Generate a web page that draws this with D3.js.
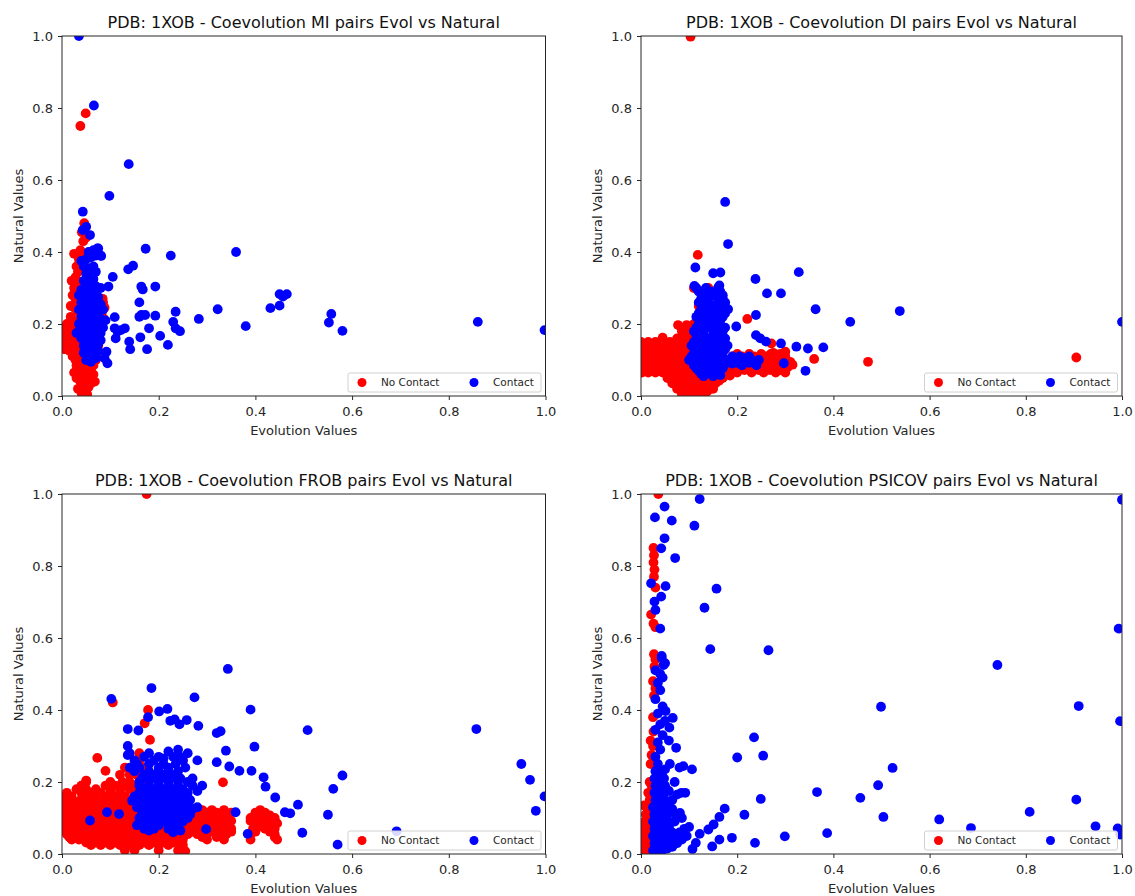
<!DOCTYPE html>
<html><head><meta charset="utf-8">
<script src="https://cdn.jsdelivr.net/npm/d3@7"></script>
<style>body{margin:0;background:#fff;} text{font-family:"DejaVu Sans",sans-serif;}</style>
</head><body><svg id="c" width="1135" height="896"></svg>
<script>
const titles = [
  "PDB: 1XOB - Coevolution MI pairs Evol vs Natural",
  "PDB: 1XOB - Coevolution DI pairs Evol vs Natural",
  "PDB: 1XOB - Coevolution FROB pairs Evol vs Natural",
  "PDB: 1XOB - Coevolution PSICOV pairs Evol vs Natural"
];
const tickValues = [0, 0.2, 0.4, 0.6, 0.8, 1.0];
const xLabel = "Evolution Values";
const yLabel = "Natural Values";
const legendLabels = ["No Contact", "Contact"];

// ---- MI ----
const miNoContact = [
[0.038,0.75],[0.049,0.785],[0.025,0.395],[0.046,0.48],[0.041,0.455],[0.05,0.44],[0.044,0.43],
[0.03,0.36],[0.035,0.38],[0.04,0.37],[0.028,0.33],[0.033,0.345],[0.045,0.35],[0.038,0.405],[0.042,0.39],
[0.02,0.32],[0.025,0.30],[0.03,0.31],[0.035,0.29],[0.022,0.28],[0.028,0.27],[0.034,0.26],[0.018,0.25],[0.026,0.245],[0.032,0.235],[0.04,0.25],
[0.085,0.26],[0.088,0.245],[0.082,0.23],[0.086,0.215],[0.08,0.2],[0.084,0.27],
[0.002,0.19],[0.005,0.17],[0.004,0.15],[0.01,0.2],[0.012,0.18],[0.015,0.16],[0.01,0.14],[0.018,0.22],[0.02,0.19],[0.022,0.17],[0.02,0.15],[0.016,0.125],[0.025,0.21],[0.028,0.18],[0.03,0.155],[0.026,0.135],[0.022,0.11],[0.033,0.2],[0.036,0.17],[0.035,0.14],[0.032,0.12],[0.028,0.1],[0.04,0.115],[0.042,0.095],[0.008,0.165],[0.001,0.175],[0.014,0.2],[0.006,0.13],
[0.03,0.085],[0.035,0.07],[0.04,0.08],[0.045,0.06],[0.05,0.075],[0.055,0.09],[0.06,0.07],[0.065,0.085],[0.07,0.1],[0.03,0.05],[0.038,0.04],[0.045,0.03],[0.05,0.045],[0.058,0.05],[0.065,0.06],[0.033,0.02],[0.04,0.01],[0.048,0.015],[0.055,0.025],[0.06,0.035],[0.052,0.005],[0.042,0.002],[0.066,0.11],[0.072,0.12],[0.075,0.14],[0.07,0.16],[0.06,0.11],[0.025,0.065],[0.068,0.04]
];
const miContact = [
[0.035,1.0],[0.066,0.807],[0.138,0.644],[0.098,0.556],[0.043,0.512],[0.05,0.47],[0.043,0.461],[0.058,0.447],[0.073,0.41],[0.081,0.389],
[0.105,0.331],[0.096,0.304],[0.137,0.352],[0.147,0.362],[0.173,0.409],[0.225,0.39],[0.36,0.40],[0.164,0.304],[0.167,0.296],[0.193,0.304],
[0.16,0.26],[0.164,0.225],[0.16,0.22],[0.172,0.225],[0.193,0.223],[0.109,0.219],[0.235,0.234],[0.23,0.206],[0.235,0.188],[0.244,0.18],
[0.283,0.214],[0.322,0.241],[0.38,0.194],[0.431,0.244],[0.45,0.251],[0.45,0.283],[0.465,0.283],[0.457,0.276],[0.557,0.228],[0.552,0.204],
[0.58,0.181],[0.86,0.206],[0.998,0.183],[0.13,0.188],[0.122,0.183],[0.115,0.179],[0.109,0.188],[0.111,0.16],[0.139,0.151],[0.141,0.13],
[0.162,0.163],[0.176,0.13],[0.18,0.188],[0.203,0.167],[0.219,0.142],[0.092,0.123],[0.094,0.091],[0.088,0.105],
[0.055,0.40],[0.065,0.405],[0.075,0.41],
[0.04,0.375],[0.05,0.38],[0.06,0.385],[0.07,0.39],[0.08,0.39],
[0.045,0.36],[0.055,0.355],[0.065,0.36],
[0.05,0.34],[0.06,0.335],[0.07,0.345],
[0.045,0.32],[0.055,0.315],[0.065,0.325],
[0.04,0.295],[0.05,0.30],[0.06,0.30],[0.07,0.305],[0.08,0.30],
[0.035,0.28],[0.045,0.275],[0.055,0.28],[0.065,0.285],[0.075,0.275],
[0.04,0.26],[0.05,0.255],[0.06,0.26],[0.07,0.265],[0.08,0.255],
[0.035,0.24],[0.045,0.235],[0.055,0.24],[0.065,0.245],[0.075,0.235],[0.085,0.24],
[0.04,0.22],[0.05,0.215],[0.06,0.22],[0.07,0.225],[0.08,0.215],[0.09,0.21],
[0.035,0.2],[0.045,0.195],[0.055,0.2],[0.065,0.205],[0.075,0.195],[0.085,0.19],
[0.03,0.175],[0.04,0.18],[0.05,0.175],[0.06,0.18],[0.07,0.185],[0.08,0.175],
[0.04,0.16],[0.05,0.155],[0.06,0.16],[0.07,0.165],[0.08,0.155],
[0.045,0.14],[0.055,0.135],[0.065,0.14],[0.075,0.145],
[0.045,0.12],[0.055,0.115],[0.065,0.12],[0.075,0.125],
[0.05,0.1],[0.06,0.095],[0.07,0.105]
];

// ---- DI ----
const diNoContact = [
[0.103,0.998],[0.118,0.392],[0.221,0.214],[0.36,0.103],[0.472,0.095],[0.905,0.107],[0.271,0.146],[0.30,0.123],[0.275,0.12],[0.312,0.091],
[0.0,0.15],[0.015,0.15],[0.03,0.15],[0.06,0.15],[0.085,0.15],[0.1,0.15],[0.115,0.15],
[0.005,0.14],[0.02,0.14],[0.035,0.14],[0.05,0.14],[0.065,0.14],[0.08,0.14],[0.095,0.14],[0.11,0.14],[0.125,0.14],
[0.008,0.133],[0.02,0.133],[0.035,0.133],[0.05,0.133],[0.065,0.133],[0.08,0.133],[0.095,0.133],[0.11,0.133],[0.125,0.133],[0.14,0.133],
[0.0,0.125],[0.012,0.125],[0.028,0.125],[0.042,0.125],[0.058,0.125],[0.072,0.125],[0.088,0.125],[0.1,0.125],[0.118,0.125],[0.132,0.125],
[0.008,0.117],[0.027,0.117],[0.043,0.117],[0.057,0.117],[0.073,0.117],[0.087,0.117],[0.103,0.117],[0.117,0.117],[0.133,0.117],[0.15,0.117],[0.2,0.117],[0.225,0.117],[0.25,0.117],[0.27,0.117],[0.29,0.117],
[0.005,0.11],[0.02,0.11],[0.035,0.11],[0.05,0.11],[0.065,0.11],[0.08,0.11],[0.095,0.11],[0.11,0.11],[0.125,0.11],[0.14,0.11],[0.19,0.11],[0.21,0.11],[0.235,0.11],[0.26,0.11],[0.28,0.11],[0.3,0.11],
[0.006,0.102],[0.02,0.102],[0.035,0.102],[0.05,0.102],[0.065,0.102],[0.08,0.102],[0.095,0.102],[0.11,0.102],[0.125,0.102],[0.14,0.102],[0.165,0.102],[0.19,0.102],[0.21,0.102],[0.232,0.102],[0.258,0.102],[0.28,0.102],[0.3,0.102],
[0.0,0.095],[0.012,0.095],[0.028,0.095],[0.042,0.095],[0.058,0.095],[0.072,0.095],[0.088,0.095],[0.1,0.095],[0.118,0.095],[0.132,0.095],[0.15,0.095],[0.18,0.095],[0.2,0.095],[0.22,0.095],[0.245,0.095],[0.27,0.095],[0.29,0.095],[0.31,0.095],
[0.005,0.087],[0.02,0.087],[0.035,0.087],[0.05,0.087],[0.065,0.087],[0.08,0.087],[0.094,0.087],[0.108,0.087],[0.124,0.087],[0.14,0.087],[0.155,0.087],[0.168,0.087],[0.185,0.087],[0.205,0.087],[0.228,0.087],[0.25,0.087],[0.272,0.087],[0.295,0.087],[0.315,0.087],
[0.005,0.08],[0.02,0.08],[0.035,0.08],[0.05,0.08],[0.065,0.08],[0.08,0.08],[0.095,0.08],[0.11,0.08],[0.125,0.08],[0.14,0.08],[0.16,0.08],[0.175,0.08],[0.195,0.08],[0.215,0.08],[0.24,0.08],[0.26,0.08],[0.285,0.08],[0.305,0.08],
[0.008,0.072],[0.022,0.072],[0.038,0.072],[0.052,0.072],[0.068,0.072],[0.082,0.072],[0.098,0.072],[0.112,0.072],[0.128,0.072],[0.142,0.072],[0.158,0.072],[0.185,0.072],[0.215,0.072],[0.245,0.072],[0.268,0.072],[0.29,0.072],
[0.002,0.065],[0.015,0.065],[0.03,0.065],[0.045,0.065],[0.06,0.065],[0.075,0.065],[0.09,0.065],[0.105,0.065],[0.12,0.065],[0.135,0.065],[0.15,0.065],[0.17,0.065],[0.2,0.065],[0.23,0.065],[0.255,0.065],[0.28,0.065],[0.3,0.065],
[0.062,0.057],[0.078,0.057],[0.092,0.057],[0.108,0.057],[0.122,0.057],[0.138,0.057],[0.152,0.057],[0.165,0.057],[0.185,0.057],
[0.055,0.05],[0.07,0.05],[0.085,0.05],[0.1,0.05],[0.115,0.05],[0.13,0.05],[0.145,0.05],[0.16,0.05],[0.17,0.05],
[0.072,0.042],[0.088,0.042],[0.102,0.042],[0.118,0.042],[0.132,0.042],[0.148,0.042],[0.162,0.042],
[0.065,0.035],[0.08,0.035],[0.095,0.035],[0.11,0.035],[0.125,0.035],[0.14,0.035],[0.155,0.035],
[0.082,0.027],[0.098,0.027],[0.112,0.027],[0.128,0.027],[0.142,0.027],
[0.075,0.02],[0.09,0.02],[0.105,0.02],[0.12,0.02],[0.135,0.02],[0.15,0.02],
[0.09,0.013],[0.108,0.013],[0.122,0.013],[0.138,0.013],
[0.085,0.006],[0.1,0.006],[0.115,0.006],[0.13,0.006],
[0.045,0.162],[0.075,0.16],[0.09,0.16],[0.105,0.16],[0.12,0.16],
[0.085,0.18],[0.1,0.18],[0.115,0.18],
[0.077,0.197],[0.095,0.197],[0.11,0.2],
[0.12,0.25],[0.13,0.255],[0.125,0.29],[0.11,0.3],[0.14,0.3]
];
const diContact = [
[0.175,0.539],[0.181,0.422],[0.113,0.357],[0.15,0.341],[0.165,0.343],[0.111,0.306],[0.163,0.307],[0.238,0.325],[0.328,0.344],[0.262,0.285],
[0.291,0.285],[0.363,0.241],[0.435,0.206],[0.538,0.236],[1.0,0.206],[0.181,0.241],[0.198,0.193],[0.239,0.225],[0.239,0.169],[0.248,0.16],
[0.26,0.151],[0.291,0.146],[0.323,0.137],[0.347,0.132],[0.379,0.135],[0.342,0.07],[0.297,0.091],
[0.115,0.3],[0.135,0.3],[0.16,0.3],
[0.12,0.29],[0.145,0.29],[0.165,0.29],
[0.13,0.28],[0.15,0.28],[0.17,0.28],
[0.125,0.27],[0.14,0.27],[0.16,0.27],[0.17,0.27],
[0.12,0.26],[0.14,0.26],[0.16,0.26],[0.175,0.26],
[0.13,0.25],[0.15,0.25],[0.17,0.25],
[0.125,0.24],[0.145,0.24],[0.165,0.24],
[0.12,0.23],[0.135,0.23],[0.155,0.23],[0.175,0.23],
[0.115,0.22],[0.13,0.22],[0.15,0.22],[0.17,0.22],
[0.125,0.21],[0.145,0.21],[0.165,0.21],
[0.12,0.2],[0.14,0.2],[0.16,0.2],
[0.115,0.19],[0.135,0.19],[0.155,0.19],[0.175,0.19],
[0.11,0.18],[0.13,0.18],[0.15,0.18],[0.17,0.18],
[0.115,0.17],[0.13,0.17],[0.15,0.17],[0.165,0.17],
[0.12,0.16],[0.14,0.16],[0.16,0.16],[0.175,0.16],
[0.11,0.15],[0.13,0.15],[0.15,0.15],[0.17,0.15],
[0.105,0.14],[0.125,0.14],[0.145,0.14],[0.165,0.14],[0.18,0.14],
[0.115,0.13],[0.135,0.13],[0.155,0.13],[0.175,0.13],
[0.11,0.12],[0.13,0.12],[0.15,0.12],[0.17,0.12],
[0.105,0.11],[0.125,0.11],[0.145,0.11],[0.165,0.11],[0.19,0.11],[0.205,0.11],[0.225,0.11],
[0.1,0.1],[0.12,0.1],[0.14,0.1],[0.16,0.1],[0.18,0.1],[0.2,0.1],[0.215,0.105],[0.23,0.1],[0.245,0.1],
[0.12,0.092],[0.14,0.092],[0.16,0.092],[0.18,0.092],[0.2,0.092],[0.225,0.092],
[0.11,0.085],[0.13,0.085],[0.15,0.085],[0.17,0.085],[0.19,0.09],[0.21,0.085],[0.24,0.085],
[0.115,0.077],[0.13,0.077],[0.15,0.077],[0.17,0.077],
[0.12,0.07],[0.14,0.07],[0.16,0.07],
[0.125,0.062],[0.145,0.062],[0.16,0.062],
[0.13,0.055],[0.15,0.055],[0.165,0.058]
];

// ---- FROB ----
const frobNoContact = [
[0.175,1.0],[0.105,0.421],[0.178,0.40],[0.171,0.363],[0.182,0.317],[0.333,0.199],[0.073,0.267],[0.09,0.231],[0.05,0.204],[0.16,0.28],[0.25,0.26],
[0.04,0.19],[0.09,0.19],[0.11,0.19],[0.13,0.19],[0.15,0.19],[0.17,0.19],
[0.01,0.17],[0.04,0.17],[0.06,0.17],[0.08,0.17],[0.1,0.17],[0.12,0.17],[0.15,0.17],
[0.005,0.16],[0.02,0.16],[0.05,0.16],[0.065,0.16],[0.09,0.16],[0.11,0.16],[0.13,0.16],[0.15,0.16],[0.17,0.16],
[0.01,0.152],[0.04,0.152],[0.07,0.152],[0.1,0.152],[0.12,0.152],[0.14,0.152],[0.16,0.152],[0.185,0.152],
[0.0,0.145],[0.015,0.145],[0.03,0.145],[0.045,0.145],[0.06,0.145],[0.075,0.145],[0.09,0.145],[0.105,0.145],[0.12,0.145],[0.135,0.145],[0.15,0.145],[0.165,0.145],[0.18,0.145],[0.2,0.145],
[0.012,0.137],[0.028,0.137],[0.042,0.137],[0.058,0.137],[0.072,0.137],[0.088,0.137],[0.102,0.137],[0.118,0.137],[0.132,0.137],[0.148,0.137],[0.162,0.137],[0.178,0.137],[0.2,0.137],
[0.005,0.13],[0.02,0.13],[0.035,0.13],[0.05,0.13],[0.065,0.13],[0.08,0.13],[0.095,0.13],[0.11,0.13],[0.125,0.13],[0.14,0.13],[0.155,0.13],[0.17,0.13],[0.19,0.13],[0.21,0.13],
[0.008,0.122],[0.02,0.122],[0.035,0.122],[0.05,0.122],[0.065,0.122],[0.08,0.122],[0.095,0.122],[0.11,0.122],[0.125,0.122],[0.14,0.122],[0.155,0.122],[0.17,0.122],[0.19,0.122],[0.21,0.122],[0.27,0.122],[0.29,0.122],[0.31,0.122],[0.335,0.122],[0.41,0.122],
[0.0,0.115],[0.012,0.115],[0.028,0.115],[0.042,0.115],[0.058,0.115],[0.072,0.115],[0.088,0.115],[0.1,0.115],[0.118,0.115],[0.132,0.115],[0.148,0.115],[0.16,0.115],[0.18,0.115],[0.2,0.115],[0.22,0.115],[0.26,0.115],[0.28,0.115],[0.3,0.115],[0.32,0.115],[0.35,0.115],[0.4,0.115],[0.42,0.115],
[0.006,0.107],[0.02,0.107],[0.035,0.107],[0.05,0.107],[0.065,0.107],[0.08,0.107],[0.095,0.107],[0.108,0.107],[0.125,0.107],[0.14,0.107],[0.155,0.107],[0.17,0.107],[0.19,0.107],[0.21,0.107],[0.24,0.107],[0.26,0.107],[0.28,0.107],[0.3,0.107],[0.32,0.107],[0.34,0.107],[0.4,0.107],[0.43,0.107],
[0.005,0.1],[0.02,0.1],[0.035,0.1],[0.05,0.1],[0.065,0.1],[0.08,0.1],[0.095,0.1],[0.11,0.1],[0.125,0.1],[0.14,0.1],[0.155,0.1],[0.17,0.1],[0.19,0.1],[0.21,0.1],[0.23,0.1],[0.25,0.1],[0.27,0.1],[0.29,0.1],[0.31,0.1],[0.33,0.1],[0.345,0.1],[0.39,0.1],[0.41,0.1],[0.44,0.1],
[0.006,0.092],[0.02,0.092],[0.035,0.092],[0.05,0.092],[0.065,0.092],[0.08,0.092],[0.094,0.092],[0.108,0.092],[0.124,0.092],[0.14,0.092],[0.155,0.092],[0.17,0.092],[0.19,0.092],[0.21,0.092],[0.23,0.092],[0.25,0.092],[0.27,0.092],[0.29,0.092],[0.31,0.092],[0.33,0.092],[0.35,0.092],[0.39,0.092],[0.415,0.092],[0.44,0.092],
[0.0,0.085],[0.012,0.085],[0.028,0.085],[0.042,0.085],[0.058,0.085],[0.072,0.085],[0.088,0.085],[0.1,0.085],[0.118,0.085],[0.132,0.085],[0.148,0.085],[0.16,0.085],[0.18,0.085],[0.2,0.085],[0.22,0.085],[0.24,0.085],[0.26,0.085],[0.28,0.085],[0.3,0.085],[0.32,0.085],[0.34,0.085],[0.4,0.085],[0.43,0.085],[0.445,0.085],
[0.008,0.077],[0.027,0.077],[0.043,0.077],[0.057,0.077],[0.073,0.077],[0.087,0.077],[0.103,0.077],[0.117,0.077],[0.133,0.077],[0.148,0.077],[0.163,0.077],[0.18,0.077],[0.2,0.077],[0.22,0.077],[0.24,0.077],[0.26,0.077],[0.28,0.077],[0.3,0.077],[0.32,0.077],[0.34,0.077],[0.41,0.077],[0.435,0.077],
[0.005,0.07],[0.02,0.07],[0.035,0.07],[0.05,0.07],[0.065,0.07],[0.08,0.07],[0.095,0.07],[0.11,0.07],[0.125,0.07],[0.14,0.07],[0.155,0.07],[0.17,0.07],[0.19,0.07],[0.21,0.07],[0.23,0.07],[0.25,0.07],[0.27,0.07],[0.29,0.07],[0.31,0.07],[0.33,0.07],[0.35,0.07],[0.395,0.07],[0.42,0.07],[0.44,0.07],
[0.012,0.062],[0.03,0.062],[0.045,0.062],[0.06,0.062],[0.078,0.062],[0.092,0.062],[0.108,0.062],[0.122,0.062],[0.138,0.062],[0.152,0.062],[0.168,0.062],[0.19,0.062],[0.21,0.062],[0.23,0.062],[0.25,0.062],[0.27,0.062],[0.29,0.062],[0.31,0.062],[0.33,0.062],[0.35,0.062],[0.4,0.062],[0.43,0.062],
[0.01,0.055],[0.025,0.055],[0.04,0.055],[0.055,0.055],[0.07,0.055],[0.085,0.055],[0.1,0.055],[0.115,0.055],[0.13,0.055],[0.145,0.055],[0.16,0.055],[0.175,0.055],[0.2,0.055],[0.22,0.055],[0.24,0.055],[0.26,0.055],[0.28,0.055],[0.3,0.055],[0.32,0.055],[0.34,0.055],[0.39,0.055],[0.44,0.055],
[0.015,0.047],[0.028,0.047],[0.043,0.047],[0.06,0.047],[0.08,0.047],[0.1,0.047],[0.12,0.047],[0.14,0.047],[0.16,0.047],[0.18,0.047],[0.2,0.047],[0.22,0.047],[0.24,0.047],[0.29,0.047],[0.32,0.047],[0.44,0.047],
[0.02,0.04],[0.035,0.04],[0.05,0.04],[0.07,0.04],[0.09,0.04],[0.11,0.04],[0.13,0.04],[0.15,0.04],[0.17,0.04],[0.19,0.04],[0.21,0.04],[0.23,0.04],[0.25,0.04],[0.3,0.04],[0.335,0.04],[0.39,0.04],[0.445,0.04],
[0.05,0.032],[0.07,0.032],[0.09,0.032],[0.11,0.032],[0.13,0.032],[0.15,0.032],[0.17,0.032],[0.19,0.032],[0.21,0.032],[0.23,0.032],[0.245,0.032],
[0.06,0.025],[0.08,0.025],[0.1,0.025],[0.12,0.025],[0.14,0.025],[0.16,0.025],[0.18,0.025],[0.2,0.025],[0.22,0.025],[0.25,0.025],
[0.13,0.01],[0.15,0.01],[0.2,0.01],[0.24,0.01],[0.255,0.008],
[0.03,0.18],[0.05,0.18],[0.07,0.18],[0.1,0.18],[0.12,0.18],[0.14,0.18],[0.16,0.18],
[0.05,0.2],[0.1,0.2],[0.125,0.2],[0.14,0.2],[0.16,0.2],
[0.12,0.22],[0.14,0.22],[0.155,0.22],
[0.13,0.24],[0.15,0.24],[0.17,0.24],
[0.16,0.26]
];
const frobContact = [
[0.343,0.514],[0.185,0.461],[0.102,0.431],[0.274,0.435],[0.39,0.401],[0.508,0.344],[0.857,0.347],[0.136,0.347],[0.158,0.343],[0.178,0.38],
[0.201,0.396],[0.218,0.403],[0.224,0.37],[0.233,0.374],[0.243,0.36],[0.258,0.372],[0.282,0.356],[0.32,0.336],[0.328,0.341],[0.339,0.287],
[0.398,0.298],[0.346,0.243],[0.367,0.231],[0.392,0.231],[0.417,0.213],[0.421,0.187],[0.441,0.157],[0.461,0.116],[0.472,0.113],[0.488,0.137],
[0.497,0.059],[0.384,0.056],[0.359,0.116],[0.298,0.069],[0.55,0.109],[0.561,0.181],[0.58,0.218],[0.57,0.026],[0.692,0.063],[0.95,0.25],
[0.968,0.206],[0.98,0.12],[0.998,0.16],[0.28,0.26],[0.32,0.255],[0.058,0.093],[0.093,0.116],[0.118,0.111],[0.145,0.148],[0.136,0.3],[0.136,0.275],
[0.14,0.28],[0.18,0.28],[0.22,0.285],[0.24,0.29],[0.26,0.28],
[0.17,0.27],[0.2,0.27],[0.23,0.27],[0.245,0.27],
[0.15,0.26],[0.19,0.26],[0.21,0.265],[0.25,0.26],
[0.155,0.25],[0.18,0.25],[0.21,0.25],[0.235,0.25],
[0.14,0.24],[0.16,0.24],[0.2,0.24],[0.22,0.24],[0.255,0.24],
[0.15,0.23],[0.18,0.23],[0.2,0.23],[0.22,0.23],[0.24,0.23],
[0.17,0.22],[0.19,0.22],[0.21,0.22],[0.23,0.22],
[0.165,0.21],[0.185,0.21],[0.205,0.21],[0.225,0.21],[0.245,0.21],[0.27,0.21],
[0.16,0.2],[0.18,0.2],[0.2,0.2],[0.22,0.2],[0.24,0.2],[0.26,0.2],[0.29,0.19],
[0.16,0.19],[0.18,0.19],[0.2,0.19],[0.22,0.19],[0.24,0.19],[0.27,0.19],
[0.17,0.18],[0.19,0.18],[0.21,0.18],[0.23,0.18],[0.25,0.18],[0.28,0.175],
[0.16,0.17],[0.18,0.17],[0.2,0.17],[0.22,0.17],[0.24,0.17],[0.26,0.17],
[0.15,0.16],[0.175,0.16],[0.195,0.16],[0.215,0.16],[0.235,0.16],[0.255,0.16],
[0.165,0.15],[0.185,0.15],[0.205,0.15],[0.225,0.15],[0.245,0.15],[0.265,0.15],
[0.16,0.14],[0.18,0.14],[0.2,0.14],[0.22,0.14],[0.24,0.14],[0.26,0.14],
[0.155,0.13],[0.175,0.13],[0.195,0.13],[0.215,0.13],[0.235,0.13],[0.255,0.13],[0.28,0.13],
[0.17,0.12],[0.19,0.12],[0.21,0.12],[0.23,0.12],[0.25,0.12],[0.27,0.125],
[0.165,0.11],[0.185,0.11],[0.205,0.11],[0.225,0.11],[0.245,0.11],[0.265,0.11],
[0.16,0.1],[0.18,0.1],[0.2,0.1],[0.22,0.1],[0.24,0.1],[0.26,0.1],
[0.165,0.09],[0.19,0.09],[0.21,0.09],[0.23,0.09],[0.25,0.09],
[0.155,0.08],[0.175,0.08],[0.2,0.08],[0.225,0.08],[0.24,0.08],
[0.17,0.07],[0.19,0.07],[0.22,0.07],[0.24,0.07],
[0.18,0.065],[0.23,0.06],[0.245,0.065]
];

// ---- PSICOV ----
const psicovNoContact = [
[0.036,1.0],[0.026,0.85],[0.027,0.83],[0.026,0.81],[0.028,0.79],[0.027,0.77],[0.03,0.74],[0.021,0.665],[0.026,0.64],[0.03,0.63],
[0.027,0.555],[0.03,0.54],[0.028,0.52],[0.025,0.48],[0.03,0.46],[0.027,0.44],[0.025,0.38],[0.026,0.34],[0.02,0.315],[0.025,0.3],
[0.022,0.275],[0.027,0.26],[0.02,0.25],[0.018,0.2],[0.022,0.19],[0.015,0.17],[0.018,0.15],[0.012,0.13],[0.01,0.11],[0.015,0.1],
[0.008,0.09],[0.012,0.075],[0.005,0.06],[0.01,0.05],[0.015,0.04],[0.005,0.03],[0.012,0.02],[0.02,0.01],[0.002,0.01],[0.008,0.0],
[0.025,0.005],[0.03,0.015],[0.035,0.002],[0.02,0.035],[0.018,0.06],[0.022,0.08],[0.02,0.12],[0.015,0.005],[0.0,0.05],[0.003,0.085],[0.006,0.135]
];
const psicovContact = [
[0.122,0.986],[0.049,0.965],[0.029,0.935],[0.064,0.926],[0.111,0.912],[0.049,0.877],[0.042,0.849],[0.071,0.822],[0.021,0.752],[0.051,0.744],
[0.157,0.737],[0.042,0.715],[0.028,0.701],[0.132,0.684],[0.03,0.678],[0.04,0.626],[0.144,0.569],[0.265,0.566],[0.043,0.55],[0.047,0.525],
[0.741,0.525],[0.499,0.409],[0.91,0.411],[0.996,0.369],[0.993,0.626],[1.0,0.984],[0.235,0.324],[0.254,0.273],[0.2,0.268],[0.088,0.244],
[0.106,0.235],[0.523,0.239],[0.493,0.191],[0.366,0.172],[0.456,0.156],[0.905,0.151],[0.249,0.153],[0.504,0.103],[0.62,0.096],[0.808,0.117],
[0.686,0.072],[0.945,0.077],[0.991,0.071],[0.996,0.054],[0.387,0.058],[0.299,0.049],[0.237,0.031],[0.215,0.109],[0.174,0.126],[0.163,0.103],
[0.151,0.082],[0.14,0.068],[0.122,0.056],[0.114,0.031],[0.107,0.014],[0.148,0.021],[0.163,0.04],[0.189,0.045],[0.084,0.17],[0.092,0.17],
[0.081,0.114],[0.058,0.315],[0.073,0.295],[0.066,0.378],[0.051,0.397],[0.059,0.351],[0.1,0.075],[0.095,0.05],[0.08,0.06],[0.07,0.09],[0.065,0.125],
[0.03,0.27],[0.04,0.29],[0.035,0.31],[0.045,0.33],[0.03,0.345],[0.04,0.36],[0.05,0.37],[0.035,0.39],[0.045,0.41],[0.03,0.43],[0.04,0.455],
[0.035,0.475],[0.045,0.49],[0.03,0.51],[0.04,0.5],[0.05,0.53],[0.043,0.545],
[0.025,0.01],[0.035,0.012],[0.045,0.01],[0.055,0.015],[0.065,0.02],[0.075,0.03],
[0.03,0.02],[0.04,0.022],[0.05,0.02],[0.06,0.025],
[0.028,0.03],[0.038,0.032],[0.048,0.03],[0.058,0.035],[0.068,0.045],
[0.03,0.04],[0.04,0.042],[0.05,0.04],[0.06,0.045],[0.085,0.04],[0.075,0.05],
[0.025,0.05],[0.035,0.052],[0.045,0.05],[0.055,0.055],[0.065,0.06],
[0.03,0.06],[0.04,0.062],[0.05,0.06],[0.09,0.07],
[0.028,0.07],[0.038,0.072],[0.048,0.07],[0.058,0.075],
[0.03,0.08],[0.04,0.082],[0.05,0.08],[0.06,0.085],
[0.025,0.09],[0.035,0.092],[0.045,0.09],[0.055,0.095],
[0.03,0.1],[0.04,0.1],[0.05,0.1],[0.085,0.1],
[0.028,0.11],[0.038,0.112],[0.048,0.11],[0.058,0.115],[0.072,0.11],
[0.03,0.12],[0.04,0.12],[0.05,0.12],
[0.025,0.13],[0.035,0.132],[0.045,0.13],[0.055,0.135],
[0.033,0.14],[0.043,0.14],
[0.03,0.15],[0.04,0.152],[0.05,0.15],[0.065,0.15],
[0.033,0.16],[0.043,0.16],[0.075,0.165],
[0.028,0.17],[0.038,0.172],[0.048,0.17],[0.058,0.175],
[0.033,0.18],[0.043,0.18],
[0.03,0.19],[0.04,0.192],[0.05,0.19],
[0.033,0.2],[0.043,0.2],[0.07,0.2],
[0.028,0.21],[0.038,0.212],[0.048,0.21],
[0.033,0.22],[0.043,0.22],
[0.03,0.23],[0.04,0.232],[0.05,0.235],[0.035,0.25],[0.06,0.25],[0.08,0.24]
];

const panelData = [
  [miNoContact, miContact],
  [diNoContact, diContact],
  [frobNoContact, frobContact],
  [psicovNoContact, psicovContact]
];
const layout = [
  {left: 62, top: 36, w: 483.5, h: 360},
  {left: 641, top: 36, w: 481, h: 360},
  {left: 62, top: 494, w: 483.5, h: 360},
  {left: 641, top: 494, w: 481, h: 360}
];
const colors = ["#ff0000", "#0000ff"];
const textColor = "#262626";

const svg = d3.select("#c");
const fmt = d3.format(".1f");

layout.forEach((L, i) => {
  const g = svg.append("g").attr("transform", `translate(${L.left},${L.top})`);
  const x = d3.scaleLinear().domain([0, 1]).range([0, L.w]);
  const y = d3.scaleLinear().domain([0, 1]).range([L.h, 0]);

  g.append("clipPath").attr("id", "clip" + i)
    .append("rect").attr("x", 0).attr("y", 0).attr("width", L.w).attr("height", L.h);

  const pts = g.append("g").attr("clip-path", `url(#clip${i})`);
  panelData[i].forEach((series, s) => {
    pts.append("g").selectAll("circle").data(series).join("circle")
      .attr("cx", d => x(d[0])).attr("cy", d => y(d[1]))
      .attr("r", 4.9).attr("fill", colors[s]);
  });

  // axes
  const ax = g.append("g").attr("transform", `translate(0,${L.h})`)
    .call(d3.axisBottom(x).tickValues(tickValues).tickFormat(fmt).tickSize(4).tickSizeOuter(0).tickPadding(7));
  const ay = g.append("g")
    .call(d3.axisLeft(y).tickValues(tickValues).tickFormat(fmt).tickSize(4).tickSizeOuter(0).tickPadding(5));
  [ax, ay].forEach(a => {
    a.select(".domain").remove();
    a.selectAll("line").attr("stroke", textColor).attr("stroke-width", 1);
    a.selectAll("text").attr("fill", textColor).style("font-size", "13px")
      .style("font-family", '"DejaVu Sans", sans-serif');
  });

  // spines
  g.append("rect").attr("x", 0).attr("y", 0).attr("width", L.w).attr("height", L.h)
    .attr("fill", "none").attr("stroke", textColor).attr("stroke-width", 1);

  // title
  g.append("text").attr("x", L.w / 2).attr("y", -8).attr("text-anchor", "middle")
    .style("font-size", "16px").attr("fill", "#111").text(titles[i]);
  // x label
  g.append("text").attr("x", L.w / 2).attr("y", L.h + 39).attr("text-anchor", "middle")
    .style("font-size", "13px").attr("fill", textColor).text(xLabel);
  // y label
  g.append("text").attr("transform", `translate(-39,${L.h / 2}) rotate(-90)`).attr("text-anchor", "middle")
    .style("font-size", "13px").attr("fill", textColor).text(yLabel);

  // legend
  const lw = 193, lh = 19;
  const lg = g.append("g").attr("transform", `translate(${L.w - 4.5 - lw},${L.h - 4 - lh})`);
  lg.append("rect").attr("width", lw).attr("height", lh).attr("rx", 2)
    .attr("fill", "#fff").attr("fill-opacity", 0.85).attr("stroke", "#d0d0d0").attr("stroke-width", 1);
  const items = [{dx: 14, tx: 33}, {dx: 126, tx: 145}];
  items.forEach((it, k) => {
    lg.append("circle").attr("cx", it.dx).attr("cy", lh / 2).attr("r", 4.5).attr("fill", colors[k]);
    lg.append("text").attr("x", it.tx).attr("y", lh / 2 + 3.8).style("font-size", "10.5px")
      .attr("fill", textColor).text(legendLabels[k]);
  });
});
</script></body></html>
